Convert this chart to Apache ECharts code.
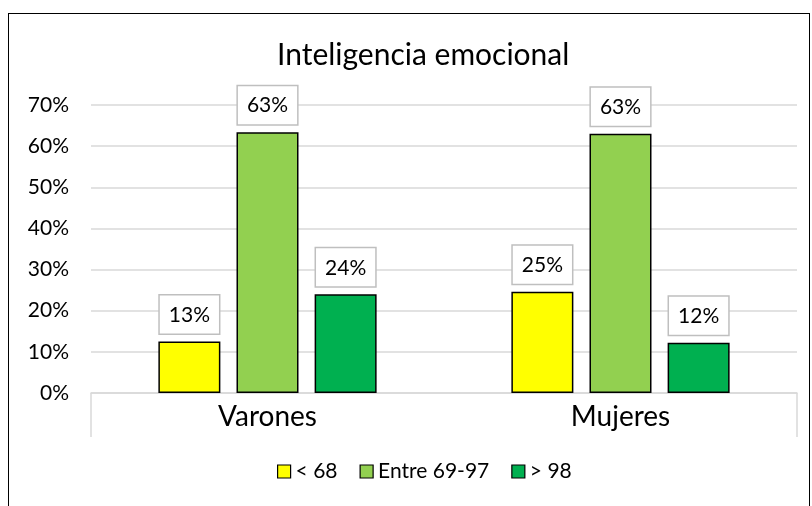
<!DOCTYPE html>
<html>
<head>
<meta charset="utf-8">
<script src="https://cdn.jsdelivr.net/npm/echarts@6/dist/echarts.min.js"></script>
<style>
  html, body { margin: 0; padding: 0; background: #fff; }
  #frame { position: absolute; left: 8px; top: 13px; width: 802px; height: 520px; border: 1.5px solid #000; box-sizing: border-box; }
  #chart { position: absolute; left: 0; top: 0; width: 812px; height: 506px; }
</style>
</head>
<body>
<div id="frame"></div>
<div id="chart"></div>
<script>
const categories = ['Varones', 'Mujeres']
const seriesNames = ['< 68', 'Entre 69-97', '> 98']
const low = [12.5, 24.6]
const mid = [63.4, 63.0]
const high = [24.0, 12.2]
const colors = ['#ffff00', '#92d050', '#00b050']

const font = 'Lato, "Open Sans", sans-serif'
const chart = echarts.init(document.getElementById('chart'))

const makeSeries = (name, data, color) => ({
  name,
  type: 'bar',
  data,
  barWidth: 62,
  barGap: '26%',
  itemStyle: { color, borderColor: '#000', borderWidth: 1.5 },
  label: {
    show: true,
    position: 'top',
    distance: 8,
    formatter: (p) => Math.round(p.value) + '%',
    fontFamily: font,
    fontSize: 21,
    color: '#000',
    backgroundColor: '#fff',
    borderColor: '#bfbfbf',
    borderWidth: 1.5,
    padding: [9, 9, 8, 9]
  }
})

chart.setOption({
  animation: false,
  title: {
    text: 'Inteligencia emocional',
    left: 272,
    top: 35,
    textStyle: { fontFamily: font, fontSize: 30, fontWeight: 'normal', color: '#000' }
  },
  legend: {
    bottom: 19,
    left: 272,
    itemWidth: 13,
    itemHeight: 13,
    itemGap: 22,
    icon: 'rect',
    textStyle: { fontFamily: font, fontSize: 21, color: '#000', padding: [0, 0, 0, 0] },
    data: seriesNames.map(n => ({ name: n, itemStyle: { borderColor: '#000', borderWidth: 1.2 } }))
  },
  grid: { left: 91, right: 15, top: 105, bottom: 113 },
  xAxis: {
    type: 'category',
    data: categories,
    axisLine: { lineStyle: { color: '#d9d9d9', width: 1.5 } },
    axisTick: { show: true, length: 44, interval: (i) => i !== 1, lineStyle: { color: '#d9d9d9', width: 1.5 } },
    axisLabel: { fontFamily: font, fontSize: 28, color: '#000', margin: 10 }
  },
  yAxis: {
    type: 'value',
    min: 0,
    max: 70,
    interval: 10,
    axisLabel: { formatter: '{value}%', fontFamily: font, fontSize: 21, color: '#000', margin: 22 },
    splitLine: { lineStyle: { color: '#d9d9d9', width: 1.5 } }
  },
  series: [
    makeSeries(seriesNames[0], low, colors[0]),
    makeSeries(seriesNames[1], mid, colors[1]),
    makeSeries(seriesNames[2], high, colors[2])
  ]
})
</script>
</body>
</html>
